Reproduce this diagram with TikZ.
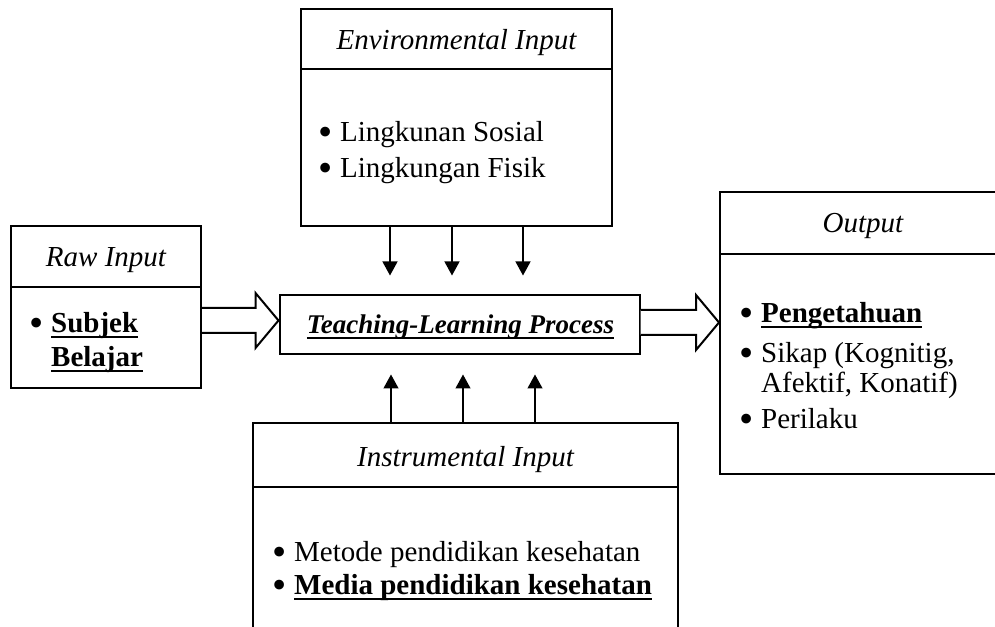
\documentclass[tikz,border=0pt]{standalone}
\usepackage{fontspec}
\setmainfont{Liberation Serif}
\usetikzlibrary{arrows.meta,calc}
\tikzset{
  box/.style={draw, line width=2pt, rectangle, inner sep=0pt},
  txt/.style={inner sep=0pt, anchor=base west, font=\fontsize{29}{35}\selectfont},
  ttl/.style={inner sep=0pt, anchor=base, font=\fontsize{29}{35}\selectfont\itshape},
  thinarrow/.style={line width=1.2pt, -{Triangle[width=15pt,length=14pt]}},
  hollow/.style={draw, line width=2pt, line join=miter, fill=white},
  divider/.style={line width=2pt}
}
\newcommand{\bul}{\makebox[18pt][l]{\hspace{-4pt}\raisebox{-4pt}[0pt][0pt]{\scalebox{1.4}{\textbullet}}}}
\newcommand{\ulx}[1]{\setbox0\hbox{#1}\rlap{\rule[-4.8pt]{\wd0}{2.2pt}}\box0}
\begin{document}
\begin{tikzpicture}[x=1pt,y=1pt]
\useasboundingbox (0,0) rectangle (995,626);
\clip (0,0) rectangle (995,626);
% boxes
\node[box, minimum width=311pt, minimum height=217pt] (env) at (456.5,508.5) {};
\node[box, minimum width=190pt, minimum height=162pt] (raw) at (106,319) {};
\node[box, minimum width=360pt, minimum height=59pt] (mid) at (459.5,301) {};
\node[box, minimum width=300pt, minimum height=282pt] (out) at (870,293) {};
\node[box, minimum width=425pt, minimum height=240pt] (ins) at (465.5,83) {};
% dividers
\draw[divider] ($(env.north west)+(0,-61)$) -- ($(env.north east)+(0,-61)$);
\draw[divider] ($(raw.north west)+(0,-62)$) -- ($(raw.north east)+(0,-62)$);
\draw[divider] ($(out.north west)+(0,-63)$) -- ($(out.north east)+(0,-63)$);
\draw[divider] ($(ins.north west)+(0,-65)$) -- ($(ins.north east)+(0,-65)$);
% titles
\node[ttl] (envt) at (456.5,576) {Environmental Input};
\node[ttl] (rawt) at (106,359) {Raw Input};
\node[ttl] (outt) at (863,393) {Output};
\node[ttl] (inst) at (465.5,159) {Instrumental Input};
% items
\node[txt] (e1) at (322,484) {\bul Lingkunan Sosial};
\node[txt] (e2) at (322,448) {\bul Lingkungan Fisik};
\node[txt] (r1) at (33,293) {\bul\textbf{\ulx{Subjek}}};
\node[txt] (r2) at (51,259) {\textbf{\ulx{Belajar}}};
\node[txt] (o1) at (743,303) {\bul\textbf{\ulx{Pengetahuan}}};
\node[txt] (o2) at (743,263) {\bul Sikap (Kognitig,};
\node[txt] (o3) at (761,233) {Afektif, Konatif)};
\node[txt] (o4) at (743,197) {\bul Perilaku};
\node[txt] (i1) at (276,64) {\bul Metode pendidikan kesehatan};
\node[txt] (i2) at (276,31) {\bul\textbf{\ulx{Media pendidikan kesehatan}}};
\node[inner sep=0pt, anchor=base, font=\fontsize{27}{32}\selectfont\bfseries\itshape] (midt) at (460.5,292) {\ulx{Teaching-Learning Process}};
% thin arrows
\coordinate (d1) at (390,0); \coordinate (d2) at (452,0); \coordinate (d3) at (523,0);
\coordinate (u1) at (391,0); \coordinate (u2) at (463,0); \coordinate (u3) at (535,0);
\foreach \c in {d1,d2,d3}
  \draw[thinarrow, shorten >=19pt] (env.south -| \c) -- (mid.north -| \c);
\foreach \c in {u1,u2,u3}
  \draw[thinarrow, shorten >=19pt] (ins.north -| \c) -- (mid.south -| \c);
% hollow arrows
\draw[hollow] let \p1=(raw.east), \p2=(mid.west) in
  (\x1,318) -- (\x2-23,318) -- (\x2-23,333) -- (\x2,305.5) -- (\x2-23,278) -- (\x2-23,293) -- (\x1,293);
\draw[hollow] let \p1=(mid.east), \p2=(out.west) in
  (\x1,316) -- (\x2-23,316) -- (\x2-23,331) -- (\x2,303.5) -- (\x2-23,276) -- (\x2-23,291) -- (\x1,291);
\end{tikzpicture}
\end{document}
